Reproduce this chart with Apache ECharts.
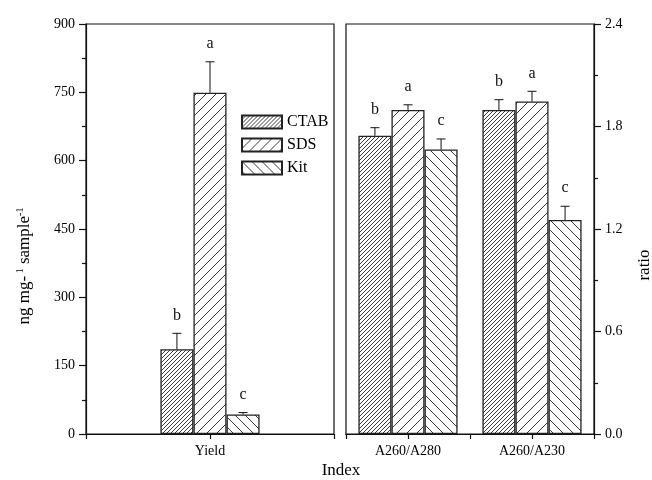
<!DOCTYPE html>
<html>
<head>
<meta charset="utf-8">
<script src="https://cdn.jsdelivr.net/npm/echarts@6/dist/echarts.min.js"></script>
<style>
  html, body { margin: 0; padding: 0; background: #fff; }
  #chart { width: 652px; height: 480px; }
</style>
</head>
<body>
<div id="chart"></div>
<script>
const methods = ['CTAB', 'SDS', 'Kit']
const yieldCats = ['Yield']
const ratioCats = ['A260/A280', 'A260/A230']

// yield, ng mg-1 sample-1 (CTAB, SDS, Kit)
const yieldMean = [186, 749, 43]
const yieldErr = [35, 68, 4]
const yieldLetters = ['b', 'a', 'c']

// ratios per method: [A260/A280, A260/A230]
const ctabRatio = [1.746, 1.897]
const sdsRatio = [1.897, 1.946]
const kitRatio = [1.665, 1.253]
const ctabRatioErr = [0.047, 0.06]
const sdsRatioErr = [0.03, 0.06]
const kitRatioErr = [0.062, 0.08]
const ratioLetters = [['b', 'b'], ['a', 'a'], ['c', 'c']]

const yieldTicks = { min: 0, max: 900, interval: 150 }
const ratioTicks = { min: 0, max: 2.4, interval: 0.6 }

const FONT = 'Liberation Serif'
const INK = '#111'

// diagonal hatch tile, dir 1 = "/", -1 = "\"
function hatch(step, dir) {
  const c = document.createElement('canvas')
  c.width = c.height = step
  const g = c.getContext('2d')
  g.fillStyle = '#fff'
  g.fillRect(0, 0, step, step)
  g.strokeStyle = '#3a3a3a'
  g.lineWidth = 1
  g.beginPath()
  for (let k = -1; k <= 1; k++) {
    if (dir > 0) {
      g.moveTo(k * step, step)
      g.lineTo(k * step + step, 0)
    } else {
      g.moveTo(k * step, 0)
      g.lineTo(k * step + step, step)
    }
  }
  g.stroke()
  return { image: c, repeat: 'repeat' }
}

const fills = [hatch(4, 1), hatch(10, 1), hatch(10, -1)]
const ratioMean = [ctabRatio, sdsRatio, kitRatio]
const ratioErr = [ctabRatioErr, sdsRatioErr, kitRatioErr]

function barStyle(k) {
  return { color: fills[k], borderColor: '#222', borderWidth: 1.3 }
}

function errSeries(grid, k, data, letters, gap) {
  return {
    type: 'custom',
    xAxisIndex: grid * 2,
    yAxisIndex: grid,
    z: 5,
    silent: true,
    data: data,
    renderItem(params, api) {
      const cat = api.value(0)
      const base = api.coord([cat, api.value(1)])
      const top = api.coord([cat, api.value(1) + api.value(2)])
      const w = api.size([1, 0])[0] * (1 - gap) / 3
      const x = base[0] + (k - 1) * w
      const st = { stroke: INK, lineWidth: 1 }
      return {
        type: 'group',
        children: [
          { type: 'line', shape: { x1: x, y1: base[1], x2: x, y2: top[1] }, style: st },
          { type: 'line', shape: { x1: x - 4.5, y1: top[1], x2: x + 4.5, y2: top[1] }, style: st },
          {
            type: 'text',
            x: x,
            y: top[1] - 18,
            style: {
              text: letters[params.dataIndex],
              align: 'center',
              verticalAlign: 'middle',
              font: '16px "' + FONT + '"',
              fill: INK
            }
          }
        ]
      }
    }
  }
}

const series = []
methods.forEach((name, k) => {
  series.push({
    name,
    type: 'bar',
    xAxisIndex: 0,
    yAxisIndex: 0,
    barGap: '0%',
    barCategoryGap: '60%',
    itemStyle: barStyle(k),
    data: [yieldMean[k]]
  })
})
methods.forEach((name, k) => {
  series.push({
    name,
    type: 'bar',
    xAxisIndex: 2,
    yAxisIndex: 1,
    barGap: '0%',
    barCategoryGap: '20%',
    itemStyle: barStyle(k),
    data: ratioMean[k]
  })
})
methods.forEach((name, k) => {
  series.push(errSeries(0, k, [[0, yieldMean[k], yieldErr[k]]], [yieldLetters[k]], 0.6))
  series.push(errSeries(1, k, ratioMean[k].map((v, i) => [i, v, ratioErr[k][i]]), ratioLetters[k], 0.2))
})

function catAxis(grid, data, centerTicks) {
  return {
    type: 'category',
    gridIndex: grid,
    position: 'bottom',
    data,
    axisLine: { lineStyle: { color: INK, width: 1.2 } },
    axisTick: { show: true, alignWithLabel: centerTicks, length: 5, lineStyle: { color: INK, width: 1.2 } },
    axisLabel: { show: centerTicks, color: '#000', fontFamily: FONT, fontSize: 14, margin: 10 },
    splitLine: { show: false }
  }
}

function valAxis(grid, pos, ticks, fmt) {
  return {
    type: 'value',
    gridIndex: grid,
    position: pos,
    min: ticks.min,
    max: ticks.max,
    interval: ticks.interval,
    axisLine: { show: true, lineStyle: { color: INK, width: 1.2 } },
    axisTick: { show: true, length: 7, lineStyle: { color: INK, width: 1.2 } },
    minorTick: { show: true, splitNumber: 2, length: 4, lineStyle: { color: INK, width: 1.2 } },
    axisLabel: { color: '#000', fontFamily: FONT, fontSize: 14, margin: 11, formatter: fmt },
    splitLine: { show: false }
  }
}

const chart = echarts.init(document.getElementById('chart'))
chart.setOption({
  backgroundColor: '#fff',
  animation: false,
  grid: [
    { left: 86, top: 24, width: 248, height: 410, show: true, borderColor: INK, borderWidth: 1.2 },
    { left: 346, top: 24, width: 248, height: 410, show: true, borderColor: INK, borderWidth: 1.2 }
  ],
  xAxis: [
    catAxis(0, yieldCats, true),
    catAxis(0, yieldCats, false),
    catAxis(1, ratioCats, true),
    catAxis(1, ratioCats, false)
  ],
  yAxis: [
    valAxis(0, 'left', yieldTicks, (v) => String(v)),
    valAxis(1, 'right', ratioTicks, (v) => v.toFixed(1))
  ],
  legend: {
    orient: 'vertical',
    left: 236,
    top: 109,
    itemWidth: 40,
    itemHeight: 13,
    itemGap: 7,
    icon: 'rect',
    data: methods,
    textStyle: { color: '#000', fontFamily: FONT, fontSize: 16 }
  },
  graphic: [
    {
      type: 'text',
      x: 25,
      y: 266,
      rotation: Math.PI / 2,
      style: {
        text: '{n|ng mg-}{s| 1}{n| sample}{s|-1}',
        align: 'center',
        verticalAlign: 'middle',
        fill: '#000',
        rich: {
          n: { fontFamily: FONT, fontSize: 17, color: '#000' },
          s: { fontFamily: FONT, fontSize: 10, color: '#000', verticalAlign: 'top', lineHeight: 20 }
        }
      }
    },
    {
      type: 'text',
      x: 645,
      y: 265,
      rotation: Math.PI / 2,
      style: { text: 'ratio', align: 'center', verticalAlign: 'middle', font: '17px "' + FONT + '"', fill: '#000' }
    },
    {
      type: 'text',
      x: 341,
      y: 471,
      style: { text: 'Index', align: 'center', verticalAlign: 'middle', font: '17px "' + FONT + '"', fill: '#000' }
    }
  ],
  series
})
</script>
</body>
</html>
